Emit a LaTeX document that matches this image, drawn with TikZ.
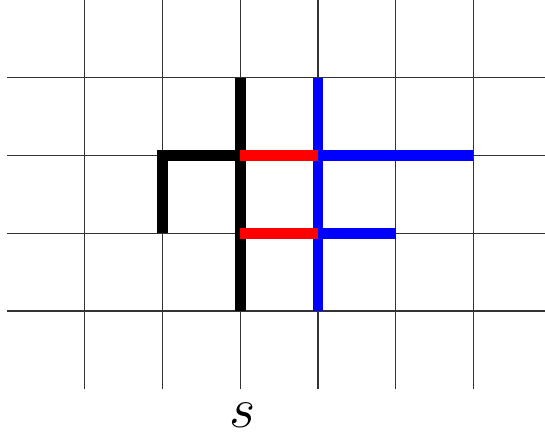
\documentclass[tikz,border=0pt]{standalone}
\begin{document}
\begin{tikzpicture}[
  gridline/.style={line width=0.4pt, black!80},
  thickpath/.style={line width=4pt, line cap=butt, line join=miter}
]
\useasboundingbox (-0.09,-0.644) rectangle (6.92,5);
\begin{scope}
\clip (-0.09,-0.644) rectangle (6.92,5);
\foreach \x in {1,...,6} \draw[gridline] (\x,0) -- (\x,5);
\foreach \y in {1,...,4} \draw[gridline] (0,\y) -- (7,\y);
\end{scope}
% black
\draw[thickpath, black] (3,1) -- (3,4);
\draw[thickpath, black] (2,2) -- (2,3) -- (3,3);
% blue
\draw[thickpath, blue] (4,1) -- (4,4);
\draw[thickpath, blue] (4,3) -- (6,3);
\draw[thickpath, blue] (4,2) -- (5,2);
% red
\draw[thickpath, red] (3,3) -- (4,3);
\draw[thickpath, red] (3,2) -- (4,2);
\node (s) at (3.03,-0.34) {\huge $s$};
\end{tikzpicture}
\end{document}
